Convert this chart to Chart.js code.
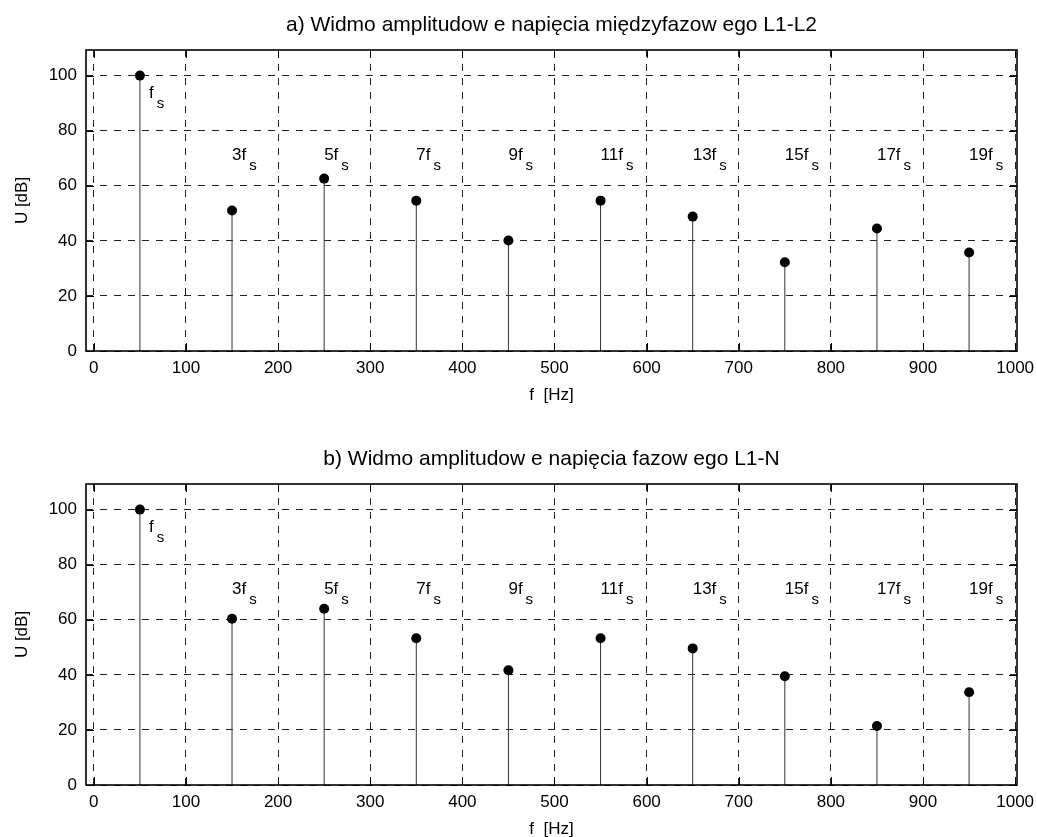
<!DOCTYPE html>
<html>
<head>
<meta charset="utf-8">
<script src="https://cdn.jsdelivr.net/npm/chart.js@4.4.0/dist/chart.umd.min.js"></script>
<style>
  html, body { margin: 0; padding: 0; background: #fff; overflow: hidden; }
  canvas { position: absolute; left: 0; }
  #chartA { top: 0; }
  #chartB { top: 434px; }
</style>
</head>
<body>
<canvas id="chartA" width="1037" height="418"></canvas>
<canvas id="chartB" width="1037" height="418"></canvas>
<script>
// harmonic frequencies [Hz] and their order
const freqs = [50, 150, 250, 350, 450, 550, 650, 750, 850, 950];
const orders = [1, 3, 5, 7, 9, 11, 13, 15, 17, 19];

// amplitudes [dB]
const ampL1L2 = [100, 51.0, 62.6, 54.6, 40.1, 54.6, 48.8, 32.2, 44.5, 35.8];
const ampL1N = [100, 60.4, 64.0, 53.3, 41.7, 53.3, 49.6, 39.5, 21.4, 33.7];

// axes
const xTicks = [0, 100, 200, 300, 400, 500, 600, 700, 800, 900, 1000];
const yTicks = [0, 20, 40, 60, 80, 100];
const xRange = [-8.5, 1002];
const yRange = [0, 109.3];

const titleA = 'a) Widmo amplitudow e napięcia międzyfazow ego L1-L2';
const titleB = 'b) Widmo amplitudow e napięcia fazow ego L1-N';

const FONT = 'Liberation Sans, Arial, sans-serif';

// box round the plot with inward ticks (matlab style)
const boxPlugin = {
    id: 'box',
    afterDraw(chart) {
        const { ctx, chartArea: a, scales: { x, y } } = chart;
        ctx.save();
        ctx.strokeStyle = '#000';
        ctx.lineWidth = 1;
        ctx.beginPath();
        x.ticks.forEach(t => {
            const px = Math.round(x.getPixelForValue(t.value)) + 0.5;
            ctx.moveTo(px, a.bottom); ctx.lineTo(px, a.bottom - 8);
            ctx.moveTo(px, a.top); ctx.lineTo(px, a.top + 8);
        });
        y.ticks.forEach(t => {
            const py = Math.round(y.getPixelForValue(t.value)) + 0.5;
            ctx.moveTo(a.left, py); ctx.lineTo(a.left + 8, py);
            ctx.moveTo(a.right, py); ctx.lineTo(a.right - 8, py);
        });
        ctx.stroke();
        ctx.lineWidth = 1.6;
        ctx.strokeRect(a.left, a.top, a.right - a.left, a.bottom - a.top);
        ctx.restore();
    }
};

// "3f_s" style labels above every stem
const harmonicLabels = {
    id: 'harmonicLabels',
    afterDatasetsDraw(chart) {
        const { ctx, scales: { x, y } } = chart;
        ctx.save();
        ctx.fillStyle = '#000';
        ctx.textBaseline = 'alphabetic';
        ctx.textAlign = 'left';
        orders.forEach((n, i) => {
            const main = n === 1 ? 'f' : n + 'f';
            const px = x.getPixelForValue(n === 1 ? freqs[i] + 10 : freqs[i]);
            const py = y.getPixelForValue(n === 1 ? 92 : 69.5);
            ctx.font = '17px ' + FONT;
            ctx.fillText(main, px, py);
            const w = ctx.measureText(main).width;
            ctx.font = '15px ' + FONT;
            ctx.fillText('s', px + w + 3, py + 10);
        });
        ctx.restore();
    }
};

function makeChart(id, title, amps) {
    const stems = [];
    freqs.forEach((f, i) => {
        stems.push({ x: f, y: 0 }, { x: f, y: amps[i] }, { x: f, y: null });
    });
    const points = freqs.map((f, i) => ({ x: f, y: amps[i] }));

    const tickFont = { family: FONT, size: 17 };

    new Chart(document.getElementById(id), {
        type: 'scatter',
        data: {
            datasets: [
                {
                    data: points,
                    pointRadius: 5,
                    pointBackgroundColor: '#000',
                    pointBorderWidth: 0,
                    order: 0
                },
                {
                    data: stems,
                    showLine: true,
                    spanGaps: false,
                    borderColor: '#333',
                    borderWidth: 1,
                    pointRadius: 0,
                    order: 1
                }
            ]
        },
        options: {
            responsive: false,
            animation: false,
            events: [],
            layout: { padding: { left: 0, right: 20, top: 0, bottom: 0 } },
            plugins: {
                legend: { display: false },
                tooltip: { enabled: false },
                title: {
                    display: true,
                    text: title,
                    fullSize: false,
                    color: '#000',
                    font: { family: FONT, size: 21, weight: 'normal' },
                    padding: { top: 12.4, bottom: 12.4 }
                }
            },
            scales: {
                x: {
                    type: 'linear',
                    min: xRange[0],
                    max: xRange[1],
                    afterBuildTicks: s => { s.ticks = xTicks.map(v => ({ value: v })); },
                    afterFit: s => { s.height = 67; s.paddingLeft = 0; s.paddingRight = 0; },
                    grid: { color: '#222', lineWidth: 1, drawTicks: false },
                    border: { display: false, dash: [7, 7] },
                    ticks: {
                        padding: 6.8, color: '#000', font: tickFont,
                        maxRotation: 0, autoSkip: false,
                        callback: v => String(v)
                    },
                    title: {
                        display: true,
                        text: 'f  [Hz]',
                        color: '#000',
                        font: tickFont,
                        padding: { top: 0, bottom: 12.8 }
                    }
                },
                y: {
                    type: 'linear',
                    min: yRange[0],
                    max: yRange[1],
                    afterBuildTicks: s => { s.ticks = yTicks.map(v => ({ value: v })); },
                    afterFit: s => { s.width = 86; },
                    grid: { color: '#222', lineWidth: 1, drawTicks: false },
                    border: { display: false, dash: [7, 7] },
                    ticks: { padding: 9, color: '#000', font: tickFont, callback: v => String(v) },
                    title: {
                        display: true,
                        text: 'U [dB]',
                        color: '#000',
                        font: tickFont,
                        padding: { top: 11.8, bottom: 0 }
                    }
                }
            }
        },
        plugins: [boxPlugin, harmonicLabels]
    });
}

makeChart('chartA', titleA, ampL1L2);
makeChart('chartB', titleB, ampL1N);
</script>
</body>
</html>
